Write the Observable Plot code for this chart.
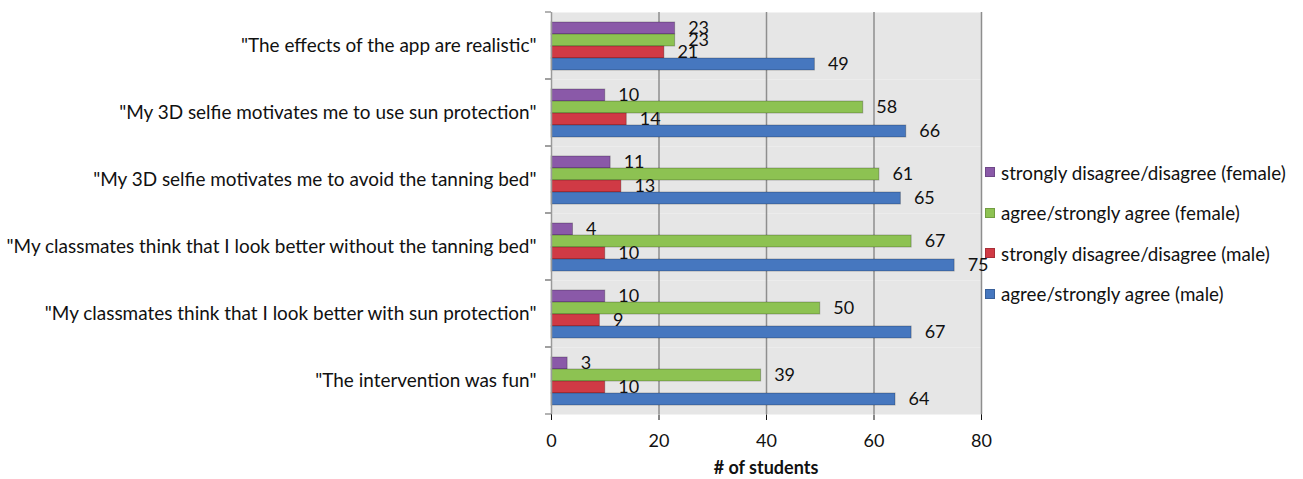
<!DOCTYPE html>
<html>
<head>
<meta charset="utf-8">
<script src="https://cdn.jsdelivr.net/npm/d3@7"></script>
<script src="https://cdn.jsdelivr.net/npm/@observablehq/plot@0.6"></script>
<style>
  html, body { margin: 0; padding: 0; background: #fff; }
  #wrap { position: relative; width: 1303px; height: 479px; font-family: Lato, "Open Sans", sans-serif; }
  #legend { position: absolute; left: 985px; top: 152px; font-size: 18.8px; color: #111; }
  #legend .row { height: 40.5px; display: flex; align-items: center; white-space: nowrap; }
  #legend .sw { width: 8px; height: 8px; margin-right: 6px; box-sizing: content-box; }
  #xtitle { position: absolute; left: 551px; width: 430px; top: 455px; line-height: 24px; text-align: center; font-weight: bold; font-size: 18px; color: #111; }
</style>
</head>
<body>
<div id="wrap">
  <div id="chart"></div>
  <div id="legend"></div>
  <div id="xtitle"># of students</div>
</div>
<script>
const questions = [
  "\"The effects of the app are realistic\"",
  "\"My 3D selfie motivates me to use sun protection\"",
  "\"My 3D selfie motivates me to avoid the tanning bed\"",
  "\"My classmates think that I look better without the tanning bed\"",
  "\"My classmates think that I look better with sun protection\"",
  "\"The intervention was fun\""
];
const seriesNames = [
  "strongly disagree/disagree (female)",
  "agree/strongly agree (female)",
  "strongly disagree/disagree (male)",
  "agree/strongly agree (male)"
];
const disagreeFemale = [23, 10, 11, 4, 10, 3];
const agreeFemale    = [23, 58, 61, 67, 50, 39];
const disagreeMale   = [21, 14, 13, 10, 9, 10];
const agreeMale      = [49, 66, 65, 75, 67, 64];
const seriesColors = ["#8a59a8", "#8dc252", "#d03a45", "#4677bf"];
const xTicks = [0, 20, 40, 60, 80];

const seriesValues = [disagreeFemale, agreeFemale, disagreeMale, agreeMale];
const data = [];
questions.forEach((q, i) => {
  seriesNames.forEach((s, j) => data.push({question: q, series: s, value: seriesValues[j][i]}));
});

function boundaryTicks(index, scales, values, dims) {
  const g = d3.create("svg:g").attr("stroke", "#9a9a9a").attr("stroke-width", 1.5);
  const {marginLeft, marginTop, height, marginBottom} = dims;
  for (const y of [marginTop, height - marginBottom]) {
    g.append("line").attr("x1", marginLeft - 6).attr("x2", marginLeft).attr("y1", y).attr("y2", y);
  }
  return g.node();
}

const chart = Plot.plot({
  width: 1303,
  height: 454,
  marginLeft: 551,
  marginRight: 322,
  marginTop: 11,
  marginBottom: 38.5,
  style: {fontFamily: "Lato, 'Open Sans', sans-serif", fontSize: "18px", color: "#111", background: "transparent"},
  x: {domain: [0, 80], ticks: xTicks, tickSize: 6, tickPadding: 14, label: null, tickFormat: d => String(d)},
  y: {domain: seriesNames, paddingInner: 0, paddingOuter: 0.7, axis: null},
  fy: {domain: questions, padding: 0, label: null, tickSize: 0, tickPadding: 15, axis: "left"},
  color: {domain: seriesNames, range: seriesColors},
  marks: [
    Plot.frame({fill: "#e6e6e6"}),
    Plot.ruleX(xTicks.slice(1), {stroke: "#8e8e8e", strokeWidth: 1.5}),
    Plot.barX(data, {x: "value", y: "series", fy: "question", fill: "series", stroke: "#000", strokeOpacity: 0.25, strokeWidth: 1}),
    Plot.text(data, {x: "value", y: "series", fy: "question", text: d => String(d.value), textAnchor: "start", dx: 13, fill: "#111", fontSize: 18}),
    Plot.ruleX([0], {stroke: "#9a9a9a", strokeWidth: 1.5}),
    boundaryTicks
  ]
});
chart.querySelectorAll("[aria-label='fy-axis tick label'] text, [aria-label='fy-axis'] text").forEach(t => t.setAttribute("font-size", "18.95"));
document.getElementById("chart").appendChild(chart);

const legend = document.getElementById("legend");
seriesNames.forEach((s, j) => {
  const row = document.createElement("div");
  row.className = "row";
  const sw = document.createElement("span");
  sw.className = "sw";
  sw.style.background = seriesColors[j];
  sw.style.border = "1px solid " + d3.color(seriesColors[j]).darker(0.6);
  const t = document.createElement("span");
  t.textContent = s;
  row.appendChild(sw);
  row.appendChild(t);
  legend.appendChild(row);
});
</script>
</body>
</html>
